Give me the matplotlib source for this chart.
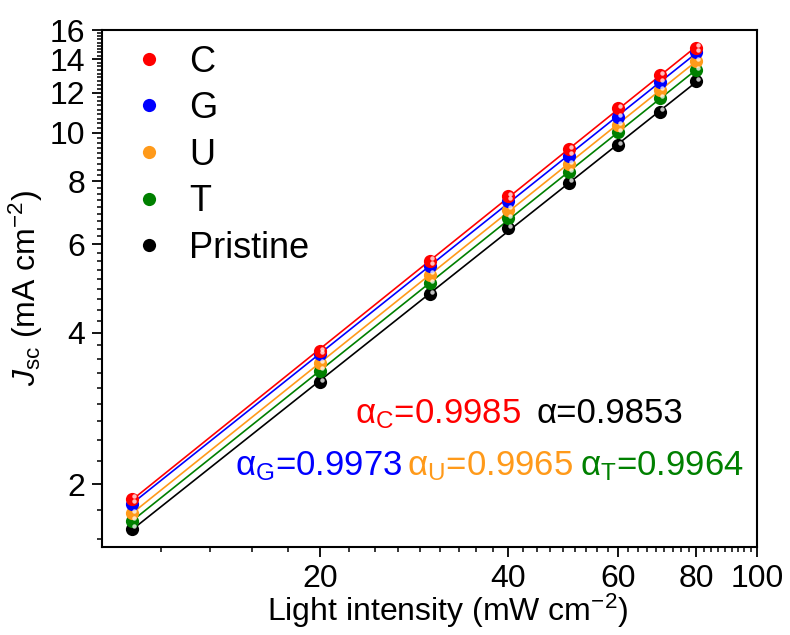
import numpy as np
import matplotlib.pyplot as plt
import matplotlib.transforms as mtransforms
from matplotlib.ticker import FixedLocator, FormatStrFormatter, NullFormatter
from matplotlib.lines import Line2D

plt.rcParams['font.family'] = ['Liberation Sans', 'DejaVu Sans']
plt.rcParams['mathtext.fontset'] = 'custom'
plt.rcParams['mathtext.rm'] = 'Liberation Sans'
plt.rcParams['mathtext.it'] = 'Liberation Sans:italic'

# light intensity (mW cm-2)
intensity = [10, 20, 30, 40, 50, 60, 70, 80]

# Jsc (mA cm-2)
jsc_C = [1.87, 3.68, 5.56, 7.48, 9.28, 11.18, 13.02, 14.76]
jsc_G = [1.83, 3.63, 5.44, 7.32, 9.00, 10.73, 12.60, 14.46]
jsc_U = [1.75, 3.48, 5.22, 7.03, 8.66, 10.36, 12.16, 13.88]
jsc_T = [1.69, 3.36, 5.02, 6.76, 8.34, 10.02, 11.70, 13.32]
jsc_P = [1.63, 3.19, 4.77, 6.45, 7.96, 9.45, 11.02, 12.66]

names = ['C', 'G', 'U', 'T', 'Pristine']
colors = ['#ff0000', '#0000ff', '#ff9a1a', '#008000', '#000000']
series = [jsc_C, jsc_G, jsc_U, jsc_T, jsc_P]

alpha_labels = ['α$_{\\rm C}$=0.9985', 'α=0.9853', 'α$_{\\rm G}$=0.9973',
                'α$_{\\rm U}$=0.9965', 'α$_{\\rm T}$=0.9964']
alpha_colors = ['#ff0000', '#000000', '#0000ff', '#ff9a1a', '#008000']

x_major = [20, 40, 60, 80, 100]
y_major = [2, 4, 6, 8, 10, 12, 14, 16]

fig = plt.figure(figsize=(7.9, 6.35), dpi=100)
ax = fig.add_axes([0.129, 0.1386, 0.829, 0.814])
ax.set_xscale('log')
ax.set_yscale('log')

x = np.array(intensity, dtype=float)
hl = mtransforms.offset_copy(ax.transData, fig=fig, x=1.6, y=1.8, units='points')

# draw pristine first so C ends on top
for name, col, y in list(zip(names, colors, series))[::-1]:
    y = np.array(y)
    p = np.polyfit(np.log10(x), np.log10(y), 1)
    ax.plot(x, 10**np.polyval(p, np.log10(x)), '-', color=col, lw=1.2, zorder=2)
    ax.plot(x, y, 'o', color=col, ms=9.5, mew=0, zorder=3)
    ax.plot(x, y, 'o', color='white', ms=3.2, mew=0, alpha=0.75, zorder=4,
            transform=hl)

ax.set_xlim(8.95, 100)
ax.set_ylim(1.5, 16)

ax.xaxis.set_major_locator(FixedLocator(x_major))
ax.yaxis.set_major_locator(FixedLocator(y_major))
ax.xaxis.set_major_formatter(FormatStrFormatter('%d'))
ax.yaxis.set_major_formatter(FormatStrFormatter('%d'))
xm = [v for v in np.arange(0, 100.1, 20 / 9) if v > 8.9 and min(abs(v - m) for m in x_major) > 0.01]
ym = [v for v in np.arange(0, 16.1, 2 / 9) if v > 1.5 and min(abs(v - m) for m in y_major) > 0.01]
ax.xaxis.set_minor_locator(FixedLocator(xm))
ax.yaxis.set_minor_locator(FixedLocator(ym))
ax.xaxis.set_minor_formatter(NullFormatter())
ax.yaxis.set_minor_formatter(NullFormatter())

ax.tick_params(which='major', direction='out', length=7, width=1.3, labelsize=23, pad=5)
ax.tick_params(which='minor', direction='out', length=3.5, width=1.1)
ax.tick_params(top=False, right=False)
for s in ax.spines.values():
    s.set_linewidth(1.5)

ax.set_xlabel('Light intensity (mW cm$^{-2}$)', fontsize=23)
ax.xaxis.set_label_coords(0.527, -0.087)
ax.set_ylabel('$J_{\\rm sc}$ (mA cm$^{-2}$)', fontsize=23, labelpad=3)

handles = [Line2D([], [], ls='none', marker='o', color=c, ms=9.5, mew=0) for c in colors]
ax.legend(handles, names, loc='upper left', frameon=False, fontsize=26,
          handlelength=0.6, handletextpad=0.8, labelspacing=0.32,
          bbox_to_anchor=(0.056, 0.972), borderaxespad=0, borderpad=0)

pos = [(0.386, 0.240), (0.664, 0.240), (0.203, 0.139), (0.466, 0.139), (0.730, 0.139)]
for (px, py), lab, col in zip(pos, alpha_labels, alpha_colors):
    ax.text(px, py, lab, color=col, fontsize=25, transform=ax.transAxes, va='baseline')

fig.savefig('out.png', dpi=100)
